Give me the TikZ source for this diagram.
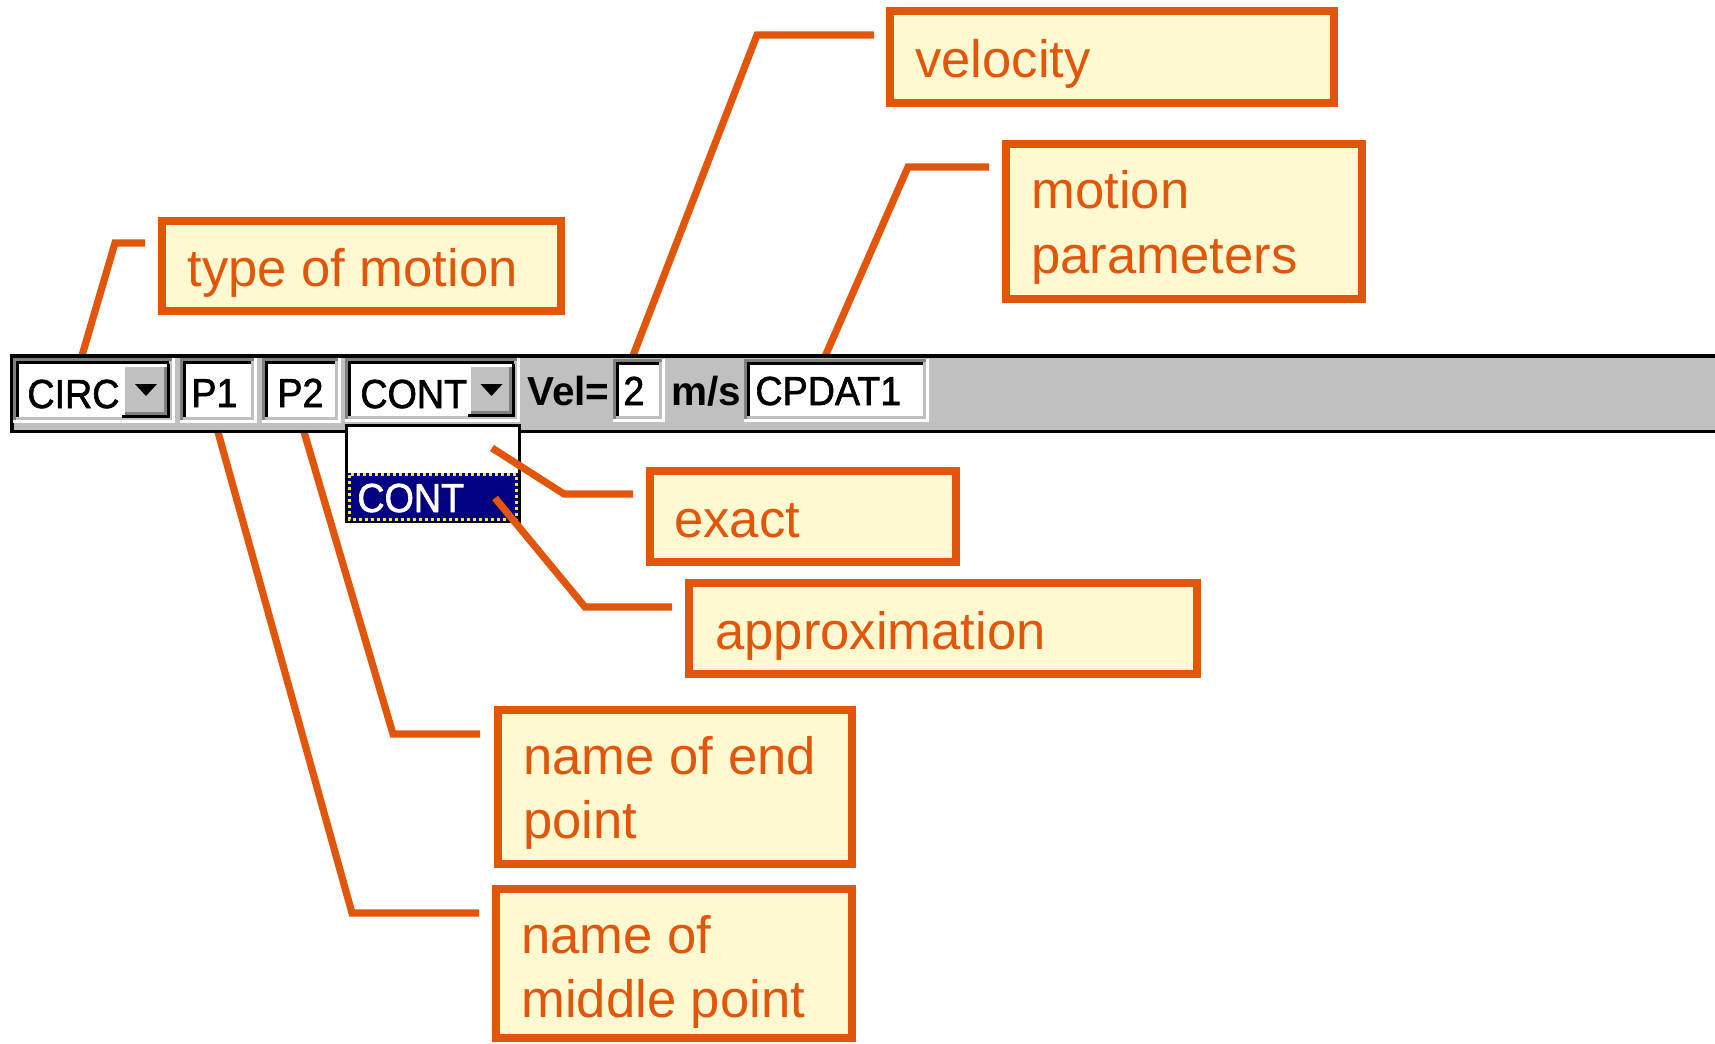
\documentclass[tikz,border=0pt]{standalone}
\usepackage{fontspec}
\setmainfont{Liberation Sans}
\newfontfamily\pixfont[FakeBold=1.6]{Liberation Sans}
\definecolor{orng}{HTML}{E1560A}
\definecolor{cream}{HTML}{FFF9D2}
\definecolor{lgray}{HTML}{C0C0C0}
\definecolor{dgray}{HTML}{808080}
\definecolor{navyblue}{HTML}{000080}
\newcommand\sunkenfield[4]{%
 \fill[white] (#1,#2) rectangle (#3,#4);
 \fill[dgray] (#1,#2) rectangle (#3-3,#2+3);
 \fill[dgray] (#1,#2) rectangle (#1+3,#4-3);
 \fill[black] (#1+3,#2+3) rectangle (#3-3,#2+6);
 \fill[black] (#1+3,#2+3) rectangle (#1+6,#4-3);
 \fill[lgray] (#1+3,#4-6) rectangle (#3-3,#4-3);
 \fill[lgray] (#3-6,#2+3) rectangle (#3-3,#4-3);
}
\newcommand\dropbutton[4]{%
 \fill[lgray] (#1,#2) rectangle (#3,#4);
 \fill[white] (#1,#2) rectangle (#3-3,#2+3);
 \fill[white] (#1,#2) rectangle (#1+3,#4-3);
 \fill[dgray] (#1+3,#4-6) rectangle (#3-3,#4-3);
 \fill[dgray] (#3-6,#2+3) rectangle (#3-3,#4-3);
 \fill[black] (#1,#4-3) rectangle (#3,#4);
 \fill[black] (#3-3,#2) rectangle (#3,#4);
 \fill[black] ({(#1+#3)/2-11},384) -- ({(#1+#3)/2+11},384) -- ({(#1+#3)/2},396) -- cycle;
}
\tikzset{
 leader/.style={draw=orng, line width=3.6pt, miter limit=20},
 callbox/.style={draw=orng, fill=cream, line width=4pt, inner sep=0pt, outer sep=0pt, rectangle},
 calltext/.style={text=orng, inner sep=0pt, anchor=base west, font=\fontsize{26.3pt}{32pt}\selectfont},
 fieldtext/.style={text=black, inner sep=0pt, anchor=base west, font=\pixfont\fontsize{20.25pt}{24pt}\selectfont},
 labeltext/.style={text=black, inner sep=0pt, anchor=base west, font=\fontsize{20.25pt}{24pt}\selectfont\bfseries},
}
\begin{document}
\begin{tikzpicture}[x=0.5pt,y=-0.5pt]
\useasboundingbox[fill=white] (0,0) rectangle (1715,1044);

% leader end points
\coordinate (l1a) at (80.7,360);   \coordinate (l1b) at (115,243); \coordinate (l1c) at (145,243);
\coordinate (l2a) at (631.3,360);  \coordinate (l2b) at (757,35);  \coordinate (l2c) at (874,35);
\coordinate (l3a) at (823.5,360);  \coordinate (l3b) at (908,167); \coordinate (l3c) at (989,167);
\coordinate (l4a) at (492,448);    \coordinate (l4b) at (564,494); \coordinate (l4c) at (633,494);
\coordinate (l5a) at (495,498);    \coordinate (l5b) at (585,607); \coordinate (l5c) at (672,607);
\coordinate (l6a) at (302,425);    \coordinate (l6b) at (393,734); \coordinate (l6c) at (480,734);
\coordinate (l7a) at (216,425);    \coordinate (l7b) at (352,913); \coordinate (l7c) at (479,913);

\draw[leader] (l1a) -- (l1b) -- (l1c);
\draw[leader] (l2a) -- (l2b) -- (l2c);
\draw[leader] (l3a) -- (l3b) -- (l3c);
\draw[leader] (l6a) -- (l6b) -- (l6c);
\draw[leader] (l7a) -- (l7b) -- (l7c);

% toolbar
\fill[black] (10,354) rectangle (1720,433);
\fill[lgray] (13.5,357.5) rectangle (1720,429.5);

\sunkenfield{13}{358}{175}{423}
\dropbutton{122}{364}{170}{418}
\node[fieldtext] (circ) at (27,408) {\scalebox{0.93}[1]{CIRC}};

\sunkenfield{180}{358}{257}{423}
\node[fieldtext] (pone) at (191,407) {\scalebox{0.93}[1]{P1}};

\sunkenfield{262}{358}{341}{423}
\node[fieldtext] (ptwo) at (277,407) {\scalebox{0.93}[1]{P2}};

\sunkenfield{345}{358}{520}{422}
\dropbutton{468}{364}{515}{417}
\node[fieldtext] (cont) at (360,408) {\scalebox{0.93}[1]{CONT}};

\node[labeltext] (vel) at (527,405) {Vel=};
\sunkenfield{613}{359}{665}{422}
\node[fieldtext] (two) at (623,405) {\scalebox{0.93}[1]{2}};
\node[labeltext] (ms) at (671,405) {m/s};
\sunkenfield{744}{359}{929}{422}
\node[fieldtext] (cpdat) at (755,405) {\scalebox{0.93}[1]{CPDAT1}};

% dropdown list
\fill[white] (345,424) rectangle (521,523);
\draw[black, line width=1.5pt] (346.5,425.5) rectangle (519.5,521.5);
\fill[navyblue] (348,473) rectangle (518,521);
\draw[yellow, line width=1.5pt, dash pattern=on 1.5pt off 1.5pt] (349.5,474.5) rectangle (516.5,519.5);
\node[fieldtext, text=white] (sel) at (357,512) {\scalebox{0.93}[1]{CONT}};

\draw[leader] (l4a) -- (l4b) -- (l4c);
\draw[leader] (l5a) -- (l5b) -- (l5c);

% callout boxes
\node[callbox, minimum width=199.5pt, minimum height=45pt] (typebox) at (361.5,266) {};
\node[calltext] (typetext) at (187,286) {type of motion};

\node[callbox, minimum width=222pt, minimum height=46pt] (velbox) at (1112,57) {};
\node[calltext] (veltext) at (915,77) {velocity};

\node[callbox, minimum width=178pt, minimum height=77.5pt] (parbox) at (1184,221.5) {};
\node[calltext] (partext1) at (1031,208) {motion};
\node[calltext] (partext2) at (1031,273) {parameters};

\node[callbox, minimum width=153pt, minimum height=45.5pt] (exbox) at (803,516.5) {};
\node[calltext] (extext) at (674,537) {exact};

\node[callbox, minimum width=254pt, minimum height=45.5pt] (apbox) at (943,628.5) {};
\node[calltext] (aptext) at (715,649) {approximation};

\node[callbox, minimum width=177pt, minimum height=77pt] (endbox) at (675,787) {};
\node[calltext] (endtext1) at (523,774) {name of end};
\node[calltext] (endtext2) at (523,838) {point};

\node[callbox, minimum width=178pt, minimum height=74.5pt] (midbox) at (674,963.5) {};
\node[calltext] (midtext1) at (521,953) {name of};
\node[calltext] (midtext2) at (521,1017) {middle point};
\end{tikzpicture}
\end{document}
